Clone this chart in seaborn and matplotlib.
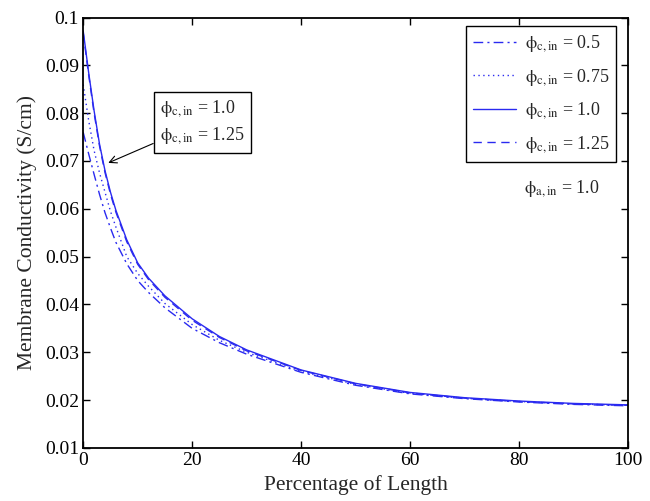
import matplotlib
matplotlib.use("Agg")
import matplotlib.pyplot as plt
import seaborn as sns
import pandas as pd

length_pct = [0, 1, 2, 3, 4, 5, 6, 8, 10, 12, 15, 20, 25, 30, 40, 50, 60, 70, 80, 90, 100]
sigma_05 = [0.0760, 0.0715, 0.0672, 0.0630, 0.0592, 0.0560, 0.0530, 0.0485, 0.0450, 0.0425, 0.0393,
            0.0350, 0.0320, 0.0296, 0.0258, 0.0231, 0.0213, 0.0203, 0.0196, 0.0191, 0.0188]
sigma_075 = [0.0860, 0.0785, 0.0722, 0.0675, 0.0635, 0.0595, 0.0562, 0.0500, 0.0465, 0.0438, 0.0402,
             0.0358, 0.0325, 0.0300, 0.0260, 0.0233, 0.0214, 0.0204, 0.0197, 0.0192, 0.0189]
sigma_10 = [0.0972, 0.0885, 0.0805, 0.0735, 0.0680, 0.0635, 0.0597, 0.0535, 0.0487, 0.0455, 0.0418,
            0.0370, 0.0333, 0.0305, 0.0263, 0.0235, 0.0216, 0.0205, 0.0198, 0.0193, 0.0190]
sigma_125 = [0.0968, 0.0880, 0.0800, 0.0731, 0.0676, 0.0631, 0.0593, 0.0531, 0.0484, 0.0452, 0.0415,
             0.0367, 0.0331, 0.0303, 0.0262, 0.0234, 0.0215, 0.0204, 0.0197, 0.0192, 0.0189]

labels = [r"$\mathrm{\phi}_{\rm c,in}$ = 0.5", r"$\mathrm{\phi}_{\rm c,in}$ = 0.75",
          r"$\mathrm{\phi}_{\rm c,in}$ = 1.0", r"$\mathrm{\phi}_{\rm c,in}$ = 1.25"]
series = [sigma_05, sigma_075, sigma_10, sigma_125]
styles = [(0, (7, 3, 1.5, 3)), (0, (1, 2.5)), "-", (0, (6, 4))]
x_ticks = [0, 20, 40, 60, 80, 100]
y_ticks = [0.01, 0.02, 0.03, 0.04, 0.05, 0.06, 0.07, 0.08, 0.09, 0.1]
y_tick_labels = ["0.01", "0.02", "0.03", "0.04", "0.05", "0.06", "0.07", "0.08", "0.09", "0.1"]

sns.set_style("ticks")
plt.rcParams["font.family"] = ["Liberation Serif", "DejaVu Serif"]
plt.rcParams["mathtext.fontset"] = "stix"

fig = plt.figure(figsize=(6.5, 5.01), dpi=100)
ax = fig.add_axes([0.128, 0.106, 0.838, 0.859])

color = "#2a2af0"
for vals, lab, ls in zip(series, labels, styles):
    df = pd.DataFrame({"x": length_pct, "y": vals})
    sns.lineplot(data=df, x="x", y="y", ax=ax, color=color, linestyle=ls,
                 linewidth=1.0, label=lab)

ax.set_xlim(0, 100)
ax.set_ylim(0.01, 0.1)
ax.set_xticks(x_ticks)
ax.set_yticks(y_ticks)
ax.set_yticklabels(y_tick_labels)
ax.tick_params(direction="in", top=True, right=True, labelsize=14, length=5, width=1,
               colors="black", pad=3)
for sp in ax.spines.values():
    sp.set_linewidth(1.3)
    sp.set_color("black")
ax.set_xlabel("Percentage of Length", fontsize=15.5, labelpad=4)
ax.set_ylabel("Membrane Conductivity (S/cm)", fontsize=15.5, labelpad=6)

leg = ax.legend(loc="upper right", bbox_to_anchor=(0.979, 0.98), fontsize=13,
                frameon=True, fancybox=False, edgecolor="black", framealpha=1,
                handlelength=2.4, handletextpad=0.45, borderpad=0.4, labelspacing=0.7,
                borderaxespad=0)
leg.get_frame().set_linewidth(1.0)

ax.text(0.878, 0.603, r"$\mathrm{\phi}_{\rm a,in}$ = 1.0", transform=ax.transAxes, fontsize=13,
        ha="center", va="center")

ax.annotate(r"$\mathrm{\phi}_{\rm c,in}$ = 1.0" + "\n" + r"$\mathrm{\phi}_{\rm c,in}$ = 1.25",
            xy=(4.6, 0.0696), xytext=(14.1, 0.0781), fontsize=13,
            ha="left", va="center", linespacing=1.45,
            bbox=dict(boxstyle="square,pad=0.35", fc="white", ec="black", lw=1.0),
            arrowprops=dict(arrowstyle="->", color="black", lw=0.8, shrinkA=0, shrinkB=0))

fig.savefig("out.png", dpi=100)
